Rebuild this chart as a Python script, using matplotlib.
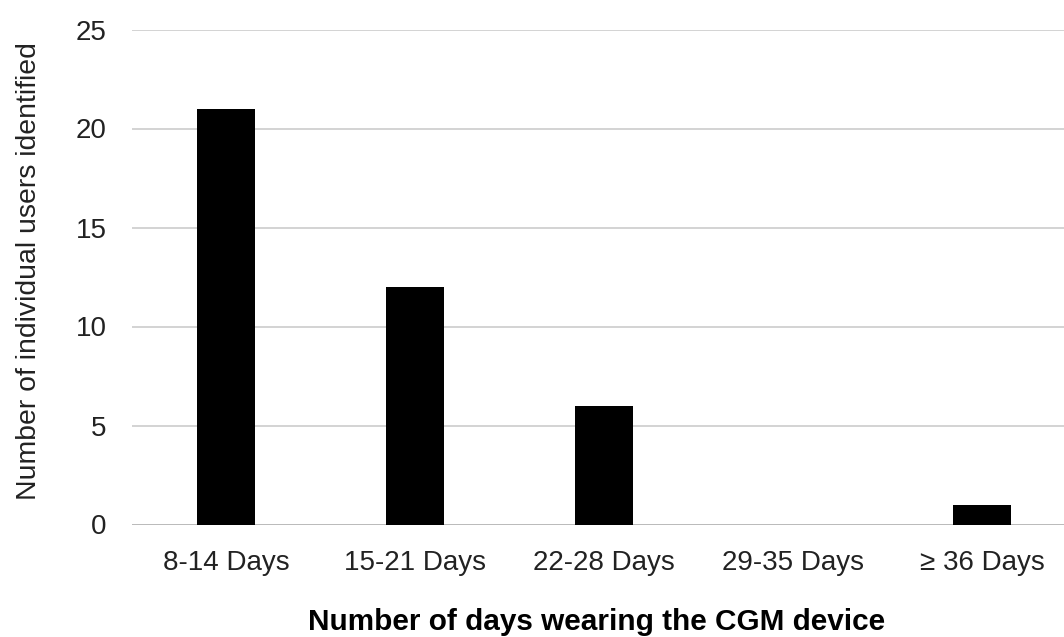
import matplotlib
matplotlib.use('Agg')
import matplotlib.pyplot as plt
import numpy as np

plt.rcParams['font.family'] = ['Liberation Sans', 'DejaVu Sans']

# Data
day_ranges = ['8-14 Days', '15-21 Days', '22-28 Days', '29-35 Days', '\u2265 36 Days']
user_counts = [21, 12, 6, 0, 1]
y_ticks = [0, 5, 10, 15, 20, 25]

W, H = 1064, 637
fig = plt.figure(figsize=(W / 100, H / 100), dpi=100)
ax = fig.add_axes([131.5 / W, 1 - 524.5 / H, 945 / W, (524.5 - 29.5) / H])

x = np.arange(len(day_ranges))
ax.bar(x, user_counts, width=0.31, color='black', zorder=3)

ax.set_xlim(-0.5, len(day_ranges) - 0.5)
ax.set_ylim(0, 25)
ax.set_yticks(y_ticks)
ax.set_xticks(x)
ax.set_xticklabels(day_ranges)

# light horizontal gridlines, no frame
ax.yaxis.grid(True, color='#cccccc', linewidth=1.2, zorder=0)
for s in ax.spines.values():
    s.set_visible(False)
ax.axhline(0, color='#bbbbbb', linewidth=1.4, zorder=2)

ax.tick_params(axis='both', length=0, labelsize=20, colors='#222222')
ax.tick_params(axis='y', pad=18)
ax.tick_params(axis='x', pad=18)

# axis titles placed to match the reference (kept just inside the bottom edge)
fig.text(597 / W, 1 - 629.5 / H, 'Number of days wearing the CGM device',
         fontsize=21.4, fontweight='bold', ha='center', va='baseline')
fig.text(36 / W, 1 - 271 / H, 'Number of individual users identified',
         fontsize=20.4, rotation=90, rotation_mode='anchor',
         ha='center', va='baseline', color='#222222')

plt.savefig('out.png', dpi=100)
